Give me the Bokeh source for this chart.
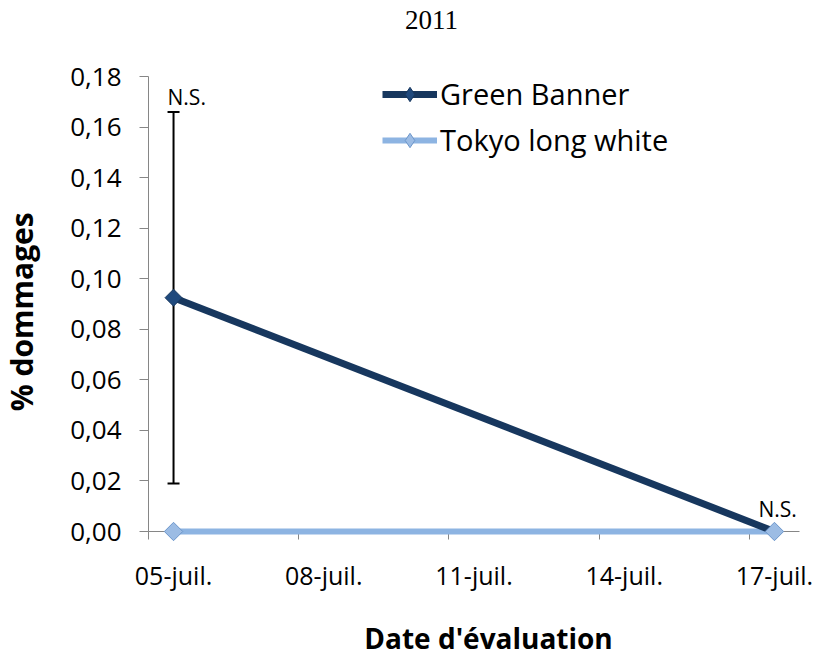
import math
from bokeh.plotting import figure
from bokeh.models import (Range1d, FixedTicker, CustomJSTickFormatter, Whisker, TeeHead,
                          ColumnDataSource, Label, Legend, LegendItem)
from bokeh.embed import file_html
from bokeh.resources import INLINE

# ---- data ----
days = [5, 17]                      # day of July 2011
green_banner = [0.0925, 0.0]
tokyo_long_white = [0.0, 0.0]
err_days = [5]
err_lower = [0.019]
err_upper = [0.166]
ns_days = [5, 17]
ns_values = [0.166, 0.0]
ns_text = ["N.S.", "N.S."]
tick_days = [5, 8, 11, 14, 17]
tick_labels = ["05-juil.", "08-juil.", "11-juil.", "14-juil.", "17-juil."]
y_ticks = [0.0, 0.02, 0.04, 0.06, 0.08, 0.10, 0.12, 0.14, 0.16, 0.18]
x_bounds = (4.5, 17.5)
y_bounds = (0.0, 0.18)
series_names = ["Green Banner", "Tokyo long white"]
title_text = "2011"
x_title = "Date d'évaluation"
y_title = "% dommages"

GB_COLOR = "#17375E"
GB_FILL = "#1F497D"
TK_COLOR = "#8DB4E2"
TK_FILL = "#9CBCE4"
TK_EDGE = "#6D97CB"
AXIS_COLOR = "#868686"
NB = "\u00a0"

# ---- layout geometry (pixels); the frame covers the whole canvas ----
W, H = 817, 654
AX_LEFT, AX_RIGHT = 148, 799     # pixel x of the x-axis ends
AX_TOP, AX_ZERO = 76, 531        # pixel y of the y-axis top / zero line
ppx = (AX_RIGHT - AX_LEFT) / (x_bounds[1] - x_bounds[0])
ppy = (AX_ZERO - AX_TOP) / (y_bounds[1] - y_bounds[0])
x_range = Range1d(x_bounds[0] - AX_LEFT / ppx, x_bounds[1] + (W - AX_RIGHT) / ppx)
y_range = Range1d(y_bounds[0] - (H - AX_ZERO) / ppy, y_bounds[1] + AX_TOP / ppy)

p = figure(width=W, height=H, output_backend="svg", toolbar_location=None,
           x_range=x_range, y_range=y_range,
           min_border_left=0, min_border_right=0, min_border_top=0, min_border_bottom=0)
p.outline_line_color = None
p.xgrid.visible = False
p.ygrid.visible = False
p.background_fill_color = "white"
p.border_fill_color = "white"

# x axis drawn at y = 0
xa = p.xaxis[0]
xa.fixed_location = y_bounds[0]
xa.level = "underlay"
xa.bounds = x_bounds
xa.ticker = FixedTicker(ticks=tick_days, minor_ticks=[d - 0.5 for d in tick_days])
xa.major_label_overrides = {d: lab for d, lab in zip(tick_days, tick_labels)}
xa.major_tick_line_color = None
xa.major_tick_out = 8
xa.major_tick_in = 0
xa.minor_tick_out = 8
xa.minor_tick_in = 0
xa.minor_tick_line_color = AXIS_COLOR
xa.axis_line_color = AXIS_COLOR
xa.major_label_text_font = "Open Sans"
xa.major_label_text_font_size = "25px"
xa.major_label_text_color = "#000000"
xa.major_label_standoff = 18
xa.axis_label = NB * 4 + x_title
xa.axis_label_text_font = "Open Sans"
xa.axis_label_text_font_style = "bold"
xa.axis_label_text_font_size = "28px"
xa.axis_label_text_color = "#000000"
xa.axis_label_standoff = 24

# y axis drawn at x = 4.5 (left end of the date axis)
ya = p.yaxis[0]
ya.fixed_location = x_bounds[0]
ya.bounds = y_bounds
ya.ticker = FixedTicker(ticks=y_ticks, minor_ticks=[])
ya.formatter = CustomJSTickFormatter(code="return tick.toFixed(2).replace('.', ',');")
ya.major_tick_out = 9
ya.major_tick_in = 0
ya.major_tick_line_color = AXIS_COLOR
ya.axis_line_color = AXIS_COLOR
ya.major_label_text_font = "Open Sans"
ya.major_label_text_font_size = "26px"
ya.major_label_text_color = "#000000"
ya.major_label_standoff = 18
ya.axis_label = y_title + NB * 2
ya.axis_label_text_font = "Open Sans"
ya.axis_label_text_font_style = "bold"
ya.axis_label_text_font_size = "30px"
ya.axis_label_text_color = "#000000"
ya.axis_label_standoff = 25

# title
p.add_layout(Label(x=431, y=635, x_units="screen", y_units="screen", text=title_text,
                   text_font="Liberation Serif", text_font_size="27px", text_align="center",
                   text_baseline="alphabetic", text_color="#000000"))

# error bar
err_src = ColumnDataSource(dict(x=err_days, lower=err_lower, upper=err_upper))
wh = Whisker(base="x", lower="lower", upper="upper", source=err_src,
             line_color="black", line_width=2, level="underlay",
             upper_head=TeeHead(size=12, line_color="black", line_width=2),
             lower_head=TeeHead(size=12, line_color="black", line_width=2))
p.add_layout(wh)

# series lines
tk_line = p.line(days, tokyo_long_white, line_color=TK_COLOR, line_width=6)
gb_line = p.line(days, green_banner, line_color=GB_COLOR, line_width=7)
# diamond markers (used by the legend; hidden under the square-diamond markers)
gb_leg = p.scatter(days[:1], green_banner[:1], marker="diamond", size=12,
                   fill_color=GB_FILL, line_color=GB_COLOR)
tk_leg = p.scatter(days, tokyo_long_white, marker="diamond", size=12,
                   fill_color=TK_FILL, line_color=TK_EDGE)
# markers as drawn in the chart
gb_mark = p.scatter(days[:1], green_banner[:1], marker="square", angle=math.pi / 4, size=12,
                    fill_color=GB_FILL, line_color=GB_COLOR, line_width=1)
tk_mark = p.scatter(days, tokyo_long_white, marker="square", angle=math.pi / 4, size=13,
                    fill_color=TK_FILL, line_color=TK_EDGE, line_width=1)

legend = Legend(items=[LegendItem(label=series_names[0], renderers=[gb_line, gb_leg]),
                       LegendItem(label=series_names[1], renderers=[tk_line, tk_leg])],
                location=(382, 495), orientation="vertical",
                label_text_font="Open Sans", label_text_font_size="29px",
                label_text_color="#000000", glyph_width=55, glyph_height=36,
                label_height=36, label_standoff=3, spacing=7, padding=0, margin=0,
                border_line_color=None, background_fill_alpha=0)
p.add_layout(legend)

# N.S. labels
p.add_layout(Label(x=ns_days[0], y=ns_values[0], text=ns_text[0], x_offset=-6, y_offset=15,
                   text_font="Open Sans", text_font_size="21px", text_baseline="alphabetic",
                   text_align="left", text_color="#000000"))
p.add_layout(Label(x=ns_days[1], y=ns_values[1], text=ns_text[1], x_offset=-16, y_offset=23,
                   text_font="Open Sans", text_font_size="21px", text_baseline="alphabetic",
                   text_align="left", text_color="#000000"))

open("out.html", "w").write(file_html(p, INLINE))
